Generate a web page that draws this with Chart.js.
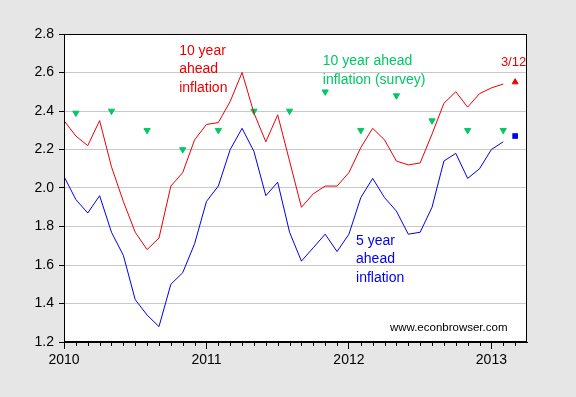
<!DOCTYPE html>
<html>
<head>
<meta charset="utf-8">
<script src="https://cdn.jsdelivr.net/npm/chart.js@4/dist/chart.umd.min.js"></script>
<style>
	html, body { margin: 0; padding: 0; background: #e6e6e6; }
	#wrap { width: 576px; height: 397px; position: relative; }
</style>
</head>
<body>
<div id="wrap"><canvas id="chart"></canvas></div>
<script>
// monthly observations, Jan 2010 .. Feb 2013
const months = [
	'2010-01','2010-02','2010-03','2010-04','2010-05','2010-06','2010-07','2010-08','2010-09','2010-10','2010-11','2010-12',
	'2011-01','2011-02','2011-03','2011-04','2011-05','2011-06','2011-07','2011-08','2011-09','2011-10','2011-11','2011-12',
	'2012-01','2012-02','2012-03','2012-04','2012-05','2012-06','2012-07','2012-08','2012-09','2012-10','2012-11','2012-12',
	'2013-01','2013-02'
];
const tenYear = [
	2.35, 2.27, 2.22, 2.35, 2.11, 1.93, 1.77, 1.68, 1.74, 2.01, 2.08, 2.25,
	2.33, 2.34, 2.45, 2.60, 2.39, 2.24, 2.38, 2.14, 1.90, 1.97, 2.01, 2.01,
	2.08, 2.21, 2.31, 2.25, 2.14, 2.12, 2.13, 2.28, 2.44, 2.50, 2.42, 2.49,
	2.52, 2.54
];
const fiveYear = [
	2.06, 1.94, 1.87, 1.96, 1.77, 1.65, 1.42, 1.34, 1.28, 1.50, 1.56, 1.71,
	1.93, 2.01, 2.20, 2.31, 2.19, 1.96, 2.03, 1.77, 1.62, 1.69, 1.76, 1.67,
	1.76, 1.95, 2.05, 1.95, 1.88, 1.76, 1.77, 1.90, 2.14, 2.18, 2.05, 2.10,
	2.20, 2.24
];
const surveyMonths = ['2010-02','2010-05','2010-08','2010-11','2011-02','2011-05','2011-08','2011-11','2012-02','2012-05','2012-08','2012-11','2013-02'];
const surveyValues = [2.39, 2.40, 2.30, 2.20, 2.30, 2.40, 2.40, 2.50, 2.30, 2.48, 2.35, 2.30, 2.30];
const latestMonth = '2013-03';
const latestTen = 2.55;
const latestFive = 2.27;
const yTicks = [1.2, 1.4, 1.6, 1.8, 2.0, 2.2, 2.4, 2.6, 2.8];
const yearTicks = ['2010', '2011', '2012', '2013'];

const RED = '#ee0000', BLUE = '#0000ee', GREEN = '#00c864';
const FONT = '"Liberation Sans", Arial, sans-serif';

// months since Jan 2010
function idx(s) {
	const [y, m] = s.split('-').map(Number);
	return (y - 2010) * 12 + (m - 1);
}

const notes = [
	{ lines: ['10 year', 'ahead', 'inflation'], x: 9.7, y: 2.713, color: RED, size: 14 },
	{ lines: ['10 year ahead', 'inflation (survey)'], x: 21.8, y: 2.66, color: GREEN, size: 14 },
	{ lines: ['5 year', 'ahead', 'inflation'], x: 24.6, y: 1.725, color: BLUE, size: 14 },
	{ lines: ['3/12'], x: 36.8, y: 2.651, color: RED, size: 13 },
	{ lines: ['www.econbrowser.com'], x: 27.45, y: 1.274, color: '#000', size: 11.5 }
];

const frame = {
	id: 'frame',
	beforeDraw(c) {
		const { ctx, chartArea: a } = c;
		ctx.save();
		ctx.fillStyle = '#fff';
		ctx.fillRect(a.left, a.top, a.right - a.left, a.bottom - a.top);
		ctx.restore();
	},
	afterDraw(c) {
		const { ctx, chartArea: a, scales } = c;
		ctx.save();
		ctx.strokeStyle = '#000';
		ctx.lineWidth = 1;
		ctx.strokeRect(Math.round(a.left) + 0.5, Math.round(a.top) + 0.5, Math.round(a.right - a.left) - 1, Math.round(a.bottom - a.top) - 1);
		// monthly minor ticks
		ctx.beginPath();
		for (let m = 1; m < 39; m++) {
			if (m % 12 === 0) continue;
			const px = Math.round(scales.x.getPixelForValue(m)) + 0.5;
			ctx.moveTo(px, a.bottom);
			ctx.lineTo(px, a.bottom + 4);
		}
		ctx.stroke();
		ctx.textBaseline = 'middle';
		ctx.textAlign = 'left';
		notes.forEach(n => {
			ctx.fillStyle = n.color;
			ctx.font = n.size + 'px ' + FONT;
			const px = scales.x.getPixelForValue(n.x);
			const py = scales.y.getPixelForValue(n.y);
			n.lines.forEach((t, i) => ctx.fillText(t, px, py + i * 18.7));
		});
		ctx.restore();
	}
};

new Chart(document.getElementById('chart').getContext('2d'), {
	type: 'line',
	data: {
		datasets: [{
			label: '10 year ahead inflation',
			data: months.map((m, i) => ({ x: idx(m), y: tenYear[i] })),
			borderColor: RED,
			borderWidth: 1,
			pointRadius: 0,
			tension: 0
		}, {
			label: '5 year ahead inflation',
			data: months.map((m, i) => ({ x: idx(m), y: fiveYear[i] })),
			borderColor: BLUE,
			borderWidth: 1,
			pointRadius: 0,
			tension: 0
		}, {
			label: 'survey',
			data: surveyMonths.map((m, i) => ({ x: idx(m), y: surveyValues[i] })),
			showLine: false,
			pointStyle: 'triangle',
			rotation: 180,
			pointRadius: 3.6,
			backgroundColor: GREEN,
			borderColor: GREEN,
			borderWidth: 1
		}, {
			label: '10 year latest',
			data: [{ x: idx(latestMonth), y: latestTen }],
			showLine: false,
			pointStyle: 'triangle',
			pointRadius: 3.4,
			backgroundColor: RED,
			borderColor: RED,
			borderWidth: 1
		}, {
			label: '5 year latest',
			data: [{ x: idx(latestMonth), y: latestFive }],
			showLine: false,
			pointStyle: 'rect',
			pointRadius: 4,
			backgroundColor: BLUE,
			borderColor: BLUE,
			borderWidth: 0
		}]
	},
	options: {
		responsive: true,
		maintainAspectRatio: false,
		animation: false,
		layout: { padding: { top: 34, right: 49, left: 0, bottom: 0 } },
		plugins: { legend: { display: false }, tooltip: { enabled: false } },
		scales: {
			x: {
				type: 'linear',
				min: 0,
				max: 39,
				afterFit: s => { s.height = 55; },
				afterBuildTicks: s => { s.ticks = yearTicks.map(y => ({ value: idx(y + '-01') })); },
				grid: { drawOnChartArea: false, tickLength: 7, tickColor: '#000' },
				border: { color: '#000' },
				ticks: {
					padding: 3,
					color: '#000',
					maxRotation: 0,
					font: { family: FONT, size: 14 },
					callback: v => yearTicks[v / 12]
				}
			},
			y: {
				min: 1.2,
				max: 2.8,
				afterFit: s => { s.width = 64; },
				afterBuildTicks: s => { s.ticks = yTicks.map(v => ({ value: v })); },
				grid: { color: '#c8c8c8', tickLength: 5, tickColor: '#000' },
				border: { color: '#000' },
				ticks: {
					padding: 5,
					color: '#000',
					font: { family: FONT, size: 14 },
					callback: v => Number(v).toFixed(1)
				}
			}
		}
	},
	plugins: [frame]
});
</script>
</body>
</html>
